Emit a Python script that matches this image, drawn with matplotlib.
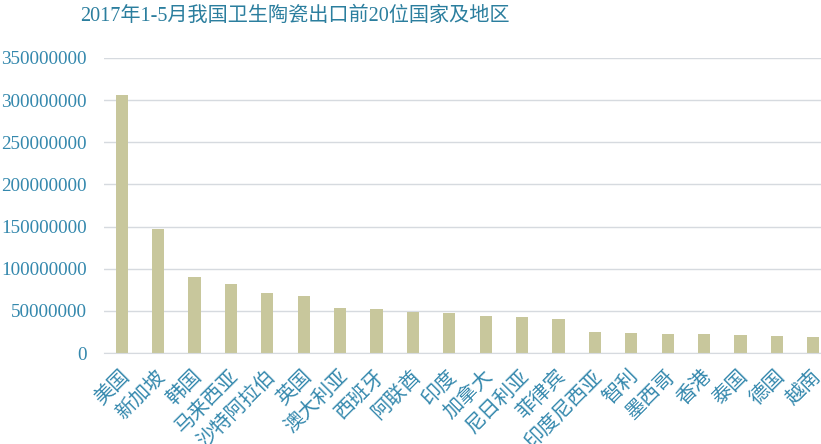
import matplotlib
matplotlib.use('Agg')
import matplotlib.pyplot as plt
import matplotlib.transforms as mtransforms
import numpy as np

# data
countries = ['美国', '新加坡', '韩国', '马来西亚', '沙特阿拉伯', '英国', '澳大利亚', '西班牙',
             '阿联酋', '印度', '加拿大', '尼日利亚', '菲律宾', '印度尼西亚', '智利', '墨西哥',
             '香港', '泰国', '德国', '越南']
values = [306e6, 147e6, 90e6, 82e6, 71e6, 68e6, 53e6, 52e6,
          49e6, 48e6, 44e6, 43e6, 40e6, 25e6, 24e6, 23e6,
          23e6, 21.7e6, 20.5e6, 19.3e6]
yticks = np.arange(0, 350000001, 50000000)

title_color = '#2b7e9e'
label_color = '#3488ad'
bar_color = '#c8c79c'
grid_color = '#d6dadf'
fonts = ['Liberation Serif', 'Noto Sans CJK SC']

fig = plt.figure(figsize=(8.21, 4.44), dpi=100)
W, H = 821, 444
ax = fig.add_axes([103.5 / W, 91 / H, 728 / W, 295 / H])

x = np.arange(len(countries))
ax.bar(x, values, width=0.33, color=bar_color, zorder=2)

ax.set_xlim(-0.5, len(countries) - 0.5)
ax.set_ylim(0, 350000000)
ax.set_yticks(yticks)
ax.set_yticklabels([str(int(v)) for v in yticks], family=fonts, fontsize=13.8, color=label_color)
ax.yaxis.grid(True, color=grid_color, linewidth=1, zorder=0)
ax.tick_params(axis='y', length=0, pad=12)
ax.tick_params(axis='x', length=0, pad=10)

ax.set_xticks(x)
ax.set_xticklabels(countries, family=fonts, fontsize=14.5, color=label_color,
                   rotation=45, ha='right', va='center', rotation_mode='anchor')
# nudge the rotated labels a little right and down, like the original
shift = mtransforms.ScaledTranslation(5 / 100, -7 / 100, fig.dpi_scale_trans)
for lbl in ax.get_xticklabels():
    lbl.set_transform(lbl.get_transform() + shift)

for s in ['top', 'right', 'left']:
    ax.spines[s].set_visible(False)
ax.spines['bottom'].set_color(grid_color)

fig.text(295 / W, 1 - 16 / H, '2017年1-5月我国卫生陶瓷出口前20位国家及地区',
         family=fonts, fontsize=14.5, color=title_color, ha='center', va='center')

fig.savefig('out.png', dpi=100, facecolor='white')
